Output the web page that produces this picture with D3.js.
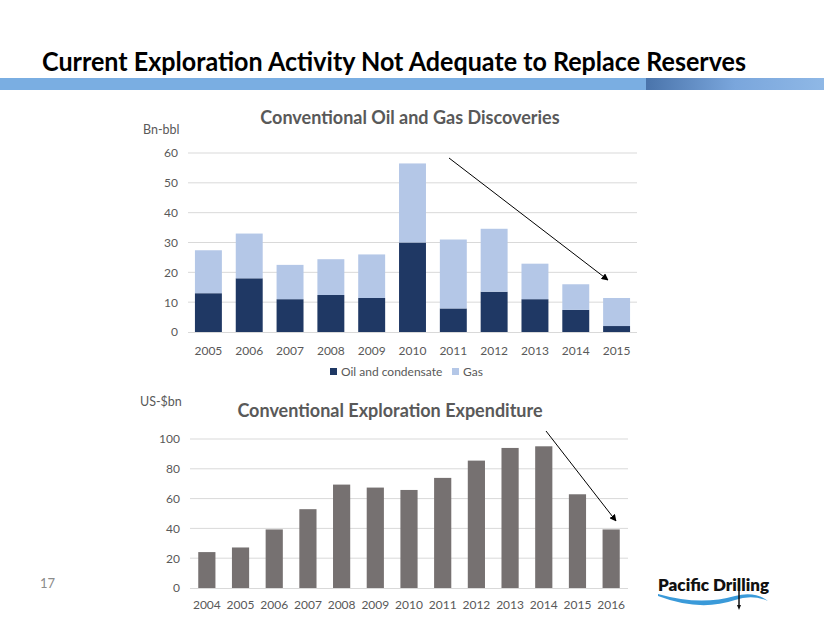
<!DOCTYPE html>
<html><head><meta charset="utf-8">
<script src="https://cdn.jsdelivr.net/npm/d3@7"></script>
<style>body{margin:0;background:#fff}svg{display:block}text{font-family:Lato,"Open Sans",sans-serif}</style>
</head><body>
<script>
const years1 = ["2005","2006","2007","2008","2009","2010","2011","2012","2013","2014","2015"];
const oil = [13.0,18.0,11.0,12.4,11.4,30.0,7.9,13.5,11.0,7.4,2.0];
const gas = [14.4,15.0,11.5,12.0,14.6,26.5,23.1,21.1,11.9,8.6,9.4];
const ticks1 = [0,10,20,30,40,50,60];
const years2 = ["2004","2005","2006","2007","2008","2009","2010","2011","2012","2013","2014","2015","2016"];
const spend = [24.1,27.2,39.3,52.9,69.4,67.4,65.8,73.9,85.5,94.0,95.1,62.9,39.3];
const ticks2 = [0,20,40,60,80,100];
const seriesNames = ["Oil and condensate","Gas"];

const W=824,H=637;
const svg=d3.select("body").append("svg").attr("width",W).attr("height",H);
const defs=svg.append("defs");
const grad=defs.append("linearGradient").attr("id","bar").attr("x1","0").attr("x2","1");
grad.append("stop").attr("offset","0").attr("stop-color","#4a74ab");
grad.append("stop").attr("offset","0.5").attr("stop-color","#7aa6dc");
grad.append("stop").attr("offset","1").attr("stop-color","#8fb8e6");
const mk=defs.append("marker").attr("id","arr").attr("viewBox","0 0 10 10").attr("refX",9).attr("refY",5)
 .attr("markerWidth",7).attr("markerHeight",7).attr("orient","auto");
mk.append("path").attr("d","M0,0L10,5L0,10z").attr("fill","#000");

// Header
svg.append("text").attr("x",42).attr("y",71).attr("font-size",26).attr("font-weight",700).attr("fill","#000")
 .attr("textLength",704).attr("lengthAdjust","spacingAndGlyphs")
 .text("Current Exploration Activity Not Adequate to Replace Reserves");
svg.append("rect").attr("x",0).attr("y",78).attr("width",646).attr("height",12).attr("fill","#7aaee2");
svg.append("rect").attr("x",646).attr("y",78).attr("width",178).attr("height",12).attr("fill","url(#bar)");

const grey="#595959";
// ---------- Chart 1 ----------
const x1=d3.scaleBand().domain(years1).range([188,637]).paddingInner(0.34).paddingOuter(0.17);
const y1=d3.scaleLinear().domain([0,60]).range([332,153]);
const g1=svg.append("g");
g1.selectAll("line.grid").data(ticks1.slice(1)).join("line")
 .attr("x1",188).attr("x2",637).attr("y1",d=>y1(d)).attr("y2",d=>y1(d)).attr("stroke","#d9d9d9").attr("stroke-width",1);
const ax1=g1.append("g").attr("transform","translate(188,0)")
 .call(d3.axisLeft(y1).tickValues(ticks1).tickSize(0).tickPadding(10));
ax1.select(".domain").remove();
ax1.selectAll("text").attr("font-size",12).attr("fill",grey).style("font-family","Lato,sans-serif");
const stack=d3.stack().keys([0,1])(years1.map((y,i)=>({0:oil[i],1:gas[i],year:y})));
const cols=["#1f3864","#b4c7e7"];
stack.forEach((s,k)=>{
  g1.append("g").selectAll("rect").data(s).join("rect")
   .attr("x",d=>x1(d.data.year)).attr("width",x1.bandwidth())
   .attr("y",d=>y1(d[1])).attr("height",d=>y1(d[0])-y1(d[1])).attr("fill",cols[k]);
});
g1.append("line").attr("x1",188).attr("x2",637).attr("y1",332.5).attr("y2",332.5).attr("stroke","#d9d9d9");
const bx1=g1.append("g").attr("transform","translate(0,332)")
 .call(d3.axisBottom(x1).tickSize(0).tickPadding(14));
bx1.select(".domain").remove();
bx1.selectAll("text").attr("font-size",12).attr("fill",grey).style("font-family","Lato,sans-serif");
svg.append("text").attr("x",410).attr("y",124).attr("text-anchor","middle").attr("font-size",18).attr("font-weight",700)
 .attr("fill",grey).text("Conventional Oil and Gas Discoveries");
svg.append("text").attr("x",143).attr("y",134).attr("font-size",12.5).attr("fill",grey).text("Bn-bbl");
// legend
const lg=svg.append("g");
const lx=[330,452];
seriesNames.forEach((n,i)=>{
  lg.append("rect").attr("x",lx[i]).attr("y",368).attr("width",7).attr("height",7).attr("fill",cols[i]);
  lg.append("text").attr("x",lx[i]+11).attr("y",376).attr("font-size",12).attr("fill",grey).text(n);
});
svg.append("line").attr("x1",449).attr("y1",158).attr("x2",608).attr("y2",280)
 .attr("stroke","#000").attr("stroke-width",1).attr("marker-end","url(#arr)");

// ---------- Chart 2 ----------
const x2=d3.scaleBand().domain(years2).range([190,628]).paddingInner(0.49).paddingOuter(0.245);
const y2=d3.scaleLinear().domain([0,100]).range([588,439]);
const g2=svg.append("g");
g2.selectAll("line.grid").data(ticks2.slice(1)).join("line")
 .attr("x1",190).attr("x2",628).attr("y1",d=>y2(d)).attr("y2",d=>y2(d)).attr("stroke","#d9d9d9");
const ax2=g2.append("g").attr("transform","translate(190,0)")
 .call(d3.axisLeft(y2).tickValues(ticks2).tickSize(0).tickPadding(10));
ax2.select(".domain").remove();
ax2.selectAll("text").attr("font-size",12).attr("fill",grey).style("font-family","Lato,sans-serif");
g2.selectAll("rect.bar").data(years2).join("rect")
 .attr("x",d=>x2(d)).attr("width",x2.bandwidth())
 .attr("y",(d,i)=>y2(spend[i])).attr("height",(d,i)=>y2(0)-y2(spend[i])).attr("fill","#767171");
g2.append("line").attr("x1",190).attr("x2",628).attr("y1",588.5).attr("y2",588.5).attr("stroke","#d9d9d9");
const bx2=g2.append("g").attr("transform","translate(0,588)")
 .call(d3.axisBottom(x2).tickSize(0).tickPadding(12));
bx2.select(".domain").remove();
bx2.selectAll("text").attr("font-size",12).attr("fill",grey).style("font-family","Lato,sans-serif");
svg.append("text").attr("x",390).attr("y",417).attr("text-anchor","middle").attr("font-size",18).attr("font-weight",700)
 .attr("fill",grey).text("Conventional Exploration Expenditure");
svg.append("text").attr("x",140).attr("y",406).attr("font-size",12.5).attr("fill",grey).text("US-$bn");
svg.append("line").attr("x1",546).attr("y1",431).attr("x2",616).attr("y2",521)
 .attr("stroke","#000").attr("stroke-width",1).attr("marker-end","url(#arr)");

// page number
svg.append("text").attr("x",40).attr("y",588).attr("font-size",13).attr("fill","#8c8c8c").text("17");

// logo
const lgo=svg.append("g");
lgo.append("path").attr("d","M658,594 Q700,606 735,596 Q755,591 768,601 Q752,594 735,600 Q700,612 658,596 Z").attr("fill","#3a9ad9");
lgo.append("text").attr("x",658).attr("y",591).attr("font-size",16).attr("font-weight",800).attr("fill","#111")
 .attr("textLength",111).attr("lengthAdjust","spacingAndGlyphs").text("Pacific Drilling");
lgo.append("line").attr("x1",739).attr("x2",739).attr("y1",578).attr("y2",606).attr("stroke","#111").attr("stroke-width",1.5);
lgo.append("path").attr("d","M737,605 L741,605 L739,610 Z").attr("fill","#111");
</script>
</body></html>
